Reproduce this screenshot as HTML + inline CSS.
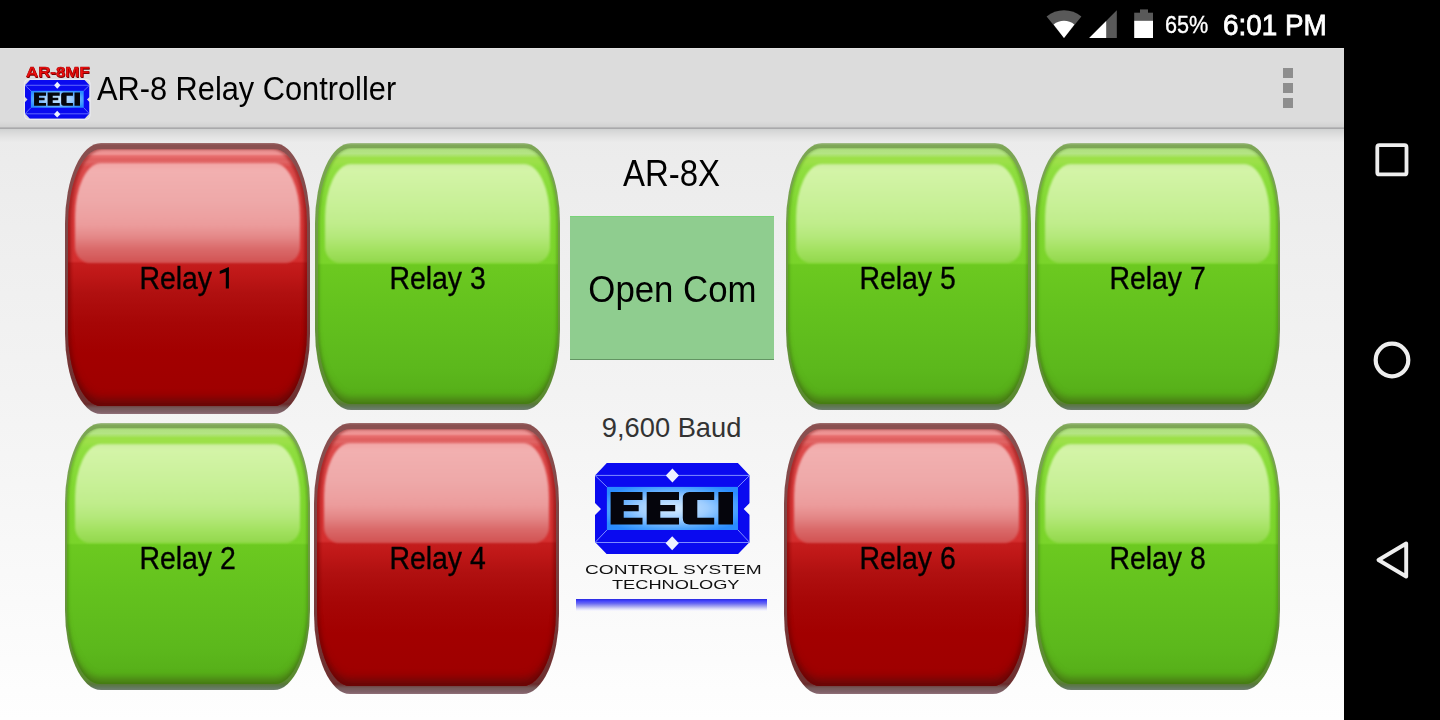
<!DOCTYPE html>
<html><head><meta charset="utf-8">
<style>
*{margin:0;padding:0;box-sizing:border-box}
html,body{width:1440px;height:720px;overflow:hidden;background:#000;font-family:"Liberation Sans",sans-serif}
.t{position:absolute;white-space:nowrap;line-height:1;transform-origin:0 0}
#status{position:absolute;left:0;top:0;width:1440px;height:48px;background:#000}
#nav{position:absolute;left:1344px;top:48px;width:96px;height:672px;background:#000}
#appbar{position:absolute;left:0;top:48px;width:1344px;height:81px;background:linear-gradient(to bottom,#e6e6e6 0,#dcdcdc 1.5px,#dcdcdc 73px,#d8d8d8 75.5px,#d1d1d1 79px,#a9a9ab 79.8px,#a9a9ab 81px)}
#shadow{position:absolute;left:0;top:129px;width:1344px;height:13px;background:linear-gradient(to bottom,#d0d2d2 0,#d6d7d7 2px,#dddddd 5px,#e5e5e5 9px,#ebebeb 13px)}
#content{position:absolute;left:0;top:129px;width:1344px;height:591px;background:linear-gradient(to bottom,#ebebeb 0%,#f4f4f4 50%,#fefefe 100%)}
.btn{position:absolute;width:245px;border-radius:36px/80px;filter:blur(.45px)}
.btn .body,.btn .hl{position:absolute}
.btn .hl{filter:blur(.9px)}
.red{height:271px;background:linear-gradient(to bottom,#a07070 0,#8a5050 2px,#8a5050 5px,#7c4444 40%,#763636 75%,#6e3030 calc(100% - 12px),#6a2a2a calc(100% - 10px),#765a5a calc(100% - 6px),#806068 calc(100% - 2px),#907078 100%)}
.red .body{left:3px;right:3px;top:6.5px;bottom:8px;border-radius:33px/76px;
 background:linear-gradient(to bottom,#d89090 0,#e89090 1px,#f09494 5px,#e87070 7px,#e06060 10px,#e06464 13px,#dc4c4c 18px,#d83a3a 60px,#d42e2e 112px,#c41c1c 114.5px,#c01818 124px,#b01010 144px,#a60606 174px,#a20000 204px,#9e0000 100%);
 box-shadow:inset 3px 0 3px rgba(110,0,0,.4),inset -3px 0 3px rgba(110,0,0,.4),inset 0 -12px 8px -5px rgba(90,10,10,.8)}
.red .hl{left:10px;right:10px;top:20.3px;height:100.2px;border-radius:26px 26px 15px 15px/54px 54px 16px 16px;
 background:linear-gradient(to bottom,#f2a6a6 0,#f2b0b0 8%,#eea8a8 40%,#ec9c9c 62%,#e48888 74%,#da6a6a 86%,#d25252 100%)}
.green{height:266.5px;background:linear-gradient(to bottom,#a8c090 0,#80a858 2px,#7ca654 5px,#6c9a40 50%,#5a8a30 calc(100% - 10px),#587838 calc(100% - 6px),#607858 calc(100% - 3px),#708070 100%)}
.green .body{left:2.3px;right:2.3px;top:5px;bottom:6px;border-radius:33px/76px;
 background:linear-gradient(to bottom,#a8d478 0,#b0e080 1px,#b4e484 5.5px,#a8e266 8px,#9ce048 10px,#9ce048 14px,#90de40 20px,#80d830 60px,#7ad42a 115px,#6cc920 117px,#64c21e 160px,#5cb81c 220px,#54ac18 100%);
 box-shadow:inset 2px 0 2px rgba(60,110,20,.25),inset -2px 0 2px rgba(60,110,20,.25),inset 0 -10px 7px -4px rgba(70,110,20,.75)}
.green .hl{left:10px;right:10px;top:20.5px;height:99.5px;border-radius:26px 26px 15px 15px/54px 54px 16px 16px;
 background:linear-gradient(to bottom,#cceea0 0,#d4f4a8 6%,#caf19a 35%,#c0ed8c 60%,#b4e87a 74%,#a4e262 86%,#92d84c 100%)}
.lbl{position:absolute;width:245px;text-align:center;font-size:31px;line-height:31px;color:#000;white-space:nowrap}
.lbl span{display:inline-block;transform:scaleX(.916);-webkit-text-stroke:.35px #000}
</style></head><body>
<div id="status"></div>
<div id="appbar"></div>
<div id="content"></div>
<div id="shadow"></div>
<div id="nav"></div>

<!-- status bar icons -->
<svg style="position:absolute;left:1040px;top:4px" width="120" height="40" viewBox="1040 4 120 40">
 <path d="M1064 38 L1046.6 16.4 A28 28 0 0 1 1081.4 16.4 Z" fill="#595959"/>
 <path d="M1064 38 L1053.6 24.4 A17 17 0 0 1 1074.4 24.4 Z" fill="#fff"/>
 <path d="M1089.2 38 L1116.8 38 L1116.8 10.2 Z" fill="#595959"/>
 <path d="M1089.2 38 L1106.2 38 L1106.2 21 Z" fill="#fff"/>
 <rect x="1140" y="9.4" width="8" height="4" fill="#595959"/>
 <rect x="1134.2" y="12.7" width="18.8" height="8" fill="#595959"/>
 <rect x="1134.2" y="20.7" width="18.8" height="17.3" fill="#fff"/>
</svg>
<div class="t" style="left:1165.2px;top:12.7px;font-size:24.6px;color:#fff;transform:scaleX(.88);-webkit-text-stroke:.35px #fff">65%</div>
<div class="t" style="left:1223.2px;top:11.1px;font-size:29px;color:#fff;transform:scaleX(.96);-webkit-text-stroke:.8px #fff">6:01 PM</div>

<!-- app bar -->
<div class="t" style="left:97.3px;top:71.8px;font-size:33px;color:#000;transform:scaleX(.932)">AR-8 Relay Controller</div>
<div style="position:absolute;left:1283px;top:68px;width:10px;height:10px;background:#8e8e8e"></div>
<div style="position:absolute;left:1283px;top:83px;width:10px;height:10px;background:#8e8e8e"></div>
<div style="position:absolute;left:1283px;top:98px;width:10px;height:10px;background:#8e8e8e"></div>

<!-- nav icons -->
<svg style="position:absolute;left:1360px;top:130px" width="64" height="460" viewBox="1360 130 64 460">
 <rect x="1377.3" y="145.2" width="29.2" height="29.2" rx="2" fill="none" stroke="#eee" stroke-width="3.8"/>
 <circle cx="1392" cy="360" r="16.3" fill="none" stroke="#eee" stroke-width="4.2"/>
 <path d="M1406.2 543.5 L1378.5 560 L1406.2 576.5 Z" fill="none" stroke="#eee" stroke-width="3.9" stroke-linejoin="round"/>
</svg>

<!-- relay buttons -->
<div class="btn red" style="left:64.5px;top:142.5px"><div class="body"></div><div class="hl"></div></div>
<div class="btn green" style="left:315.4px;top:143px"><div class="body"></div><div class="hl"></div></div>
<div class="btn green" style="left:785.5px;top:143px"><div class="body"></div><div class="hl"></div></div>
<div class="btn green" style="left:1035.2px;top:143px"><div class="body"></div><div class="hl"></div></div>
<div class="btn green" style="left:65px;top:423px"><div class="body"></div><div class="hl"></div></div>
<div class="btn red" style="left:314.4px;top:422.5px"><div class="body"></div><div class="hl"></div></div>
<div class="btn red" style="left:784px;top:422.5px"><div class="body"></div><div class="hl"></div></div>
<div class="btn green" style="left:1035.4px;top:423px"><div class="body"></div><div class="hl"></div></div>

<div class="lbl" style="left:65.5px;top:262.5px"><span>Relay <svg width="17.24" height="21.4" viewBox="0 0 17.24 21.4" style="vertical-align:baseline;overflow:visible"><path d="M9.7 .3 V21.6 H6.3 V4.9 L-.3 7.1 V4 L8.9 .3 Z" fill="#000"/></svg></span></div>
<div class="lbl" style="left:315px;top:262.5px"><span>Relay 3</span></div>
<div class="lbl" style="left:785.5px;top:262.5px"><span>Relay 5</span></div>
<div class="lbl" style="left:1035.5px;top:262.5px"><span>Relay 7</span></div>
<div class="lbl" style="left:65.5px;top:542.5px"><span>Relay 2</span></div>
<div class="lbl" style="left:315px;top:542.5px"><span>Relay 4</span></div>
<div class="lbl" style="left:785.5px;top:542.5px"><span>Relay 6</span></div>
<div class="lbl" style="left:1035.5px;top:542.5px"><span>Relay 8</span></div>

<!-- center column -->
<div style="position:absolute;left:571.5px;width:200px;top:155.4px;text-align:center;font-size:37px;line-height:1;white-space:nowrap"><span style="display:inline-block;transform:scaleX(.891)">AR-8X</span></div>
<div style="position:absolute;left:570px;top:216px;width:204px;height:143.5px;background:#8fcd8f;border-top:1px solid #78d478;border-bottom:1.5px solid #639563"></div>
<div style="position:absolute;left:572px;width:200px;top:270.6px;text-align:center;font-size:37px;line-height:1;white-space:nowrap"><span style="display:inline-block;transform:scaleX(.94)">Open Com</span></div>
<div style="position:absolute;left:571.6px;width:200px;top:414px;text-align:center;font-size:27.3px;line-height:1;white-space:nowrap;color:#333"><span style="display:inline-block">9,600 Baud</span></div>


<svg width="0" height="0" style="position:absolute">
 <defs>
  <radialGradient id="ig" cx="0.5" cy="0.5" r="0.6" gradientTransform="translate(0 0) scale(1 1)">
   <stop offset="0" stop-color="#d6ecff"/>
   <stop offset="0.45" stop-color="#9cccff"/>
   <stop offset="0.8" stop-color="#4aa2ff"/>
   <stop offset="1" stop-color="#2a8cff"/>
  </radialGradient>
  <symbol id="badge" viewBox="0 0 154.7 91.2" preserveAspectRatio="none">
   <path d="M11.8 0 H142.9 L154.7 12.4 V40 L148.7 46 L154.7 52 V79 L142.9 91.2 H11.8 L0 79 V52 L6 46 L0 40 V12.4 Z" fill="#0a0af0"/>
   <rect x="11.9" y="23.9" width="131.1" height="43.1" fill="url(#ig)"/>
   <g stroke="#7f8cff" stroke-width="1" fill="none">
    <path d="M0 12.4 H154.7 M0 79.5 H154.7 M0 12.4 L11.9 23.9 M154.7 12.4 L143 23.9 M0 79.5 L11.9 67 M154.7 79.5 L143 67"/>
   </g>
   <path d="M77.4 5.4 L84 12.4 L77.4 19.4 L70.8 12.4 Z" fill="#eef2ff"/>
   <path d="M77.2 73.3 L83.8 80.3 L77.2 87.3 L70.6 80.3 Z" fill="#eef2ff"/>
   <g fill="#05050c">
    <path d="M15.6 29 H47.5 V37 H28.7 V42 H43.7 V48.2 H28.7 V54.8 H47.5 V61.4 H15.6 Z"/>
    <path d="M51.7 29 H84 V37 H65.3 V42 H80.2 V48.2 H65.3 V54.8 H84 V61.4 H51.7 Z"/>
    <path d="M94.3 29 H119.2 V37 H102.3 V54.8 H119.2 V61.4 H94.3 Q87.8 61.4 87.8 54.9 V35.5 Q87.8 29 94.3 29 Z"/>
    <path d="M123.4 29 H138 V61.4 H123.4 Z"/>
   </g>
  </symbol>
  <symbol id="badge2" viewBox="0 0 154.7 91.2" preserveAspectRatio="none">
   <path d="M11.8 0 H142.9 L154.7 12.4 V40 L148.7 46 L154.7 52 V79 L142.9 91.2 H11.8 L0 79 V52 L6 46 L0 40 V12.4 Z" fill="#0a0af0"/>
   <rect x="14.1" y="25.4" width="126.7" height="39.7" fill="url(#ig)"/>
   <g stroke="#8a96ff" stroke-width="1.6" fill="none">
    <path d="M0 12.4 H154.7 M0 79.5 H154.7 M0 12.4 L14.1 25.4 M154.7 12.4 L140.8 25.4 M0 79.5 L14.1 65.1 M154.7 79.5 L140.8 65.1"/>
   </g>
   <path d="M77.4 4.4 L85 12.4 L77.4 20.4 L69.8 12.4 Z" fill="#eef2ff"/>
   <path d="M77.2 72.3 L84.8 80.3 L77.2 88.3 L69.6 80.3 Z" fill="#eef2ff"/>
   <g fill="#05050c" transform="translate(76.8 0) scale(.9 .96) translate(-76.8 1.5)">
    <path d="M15.6 29 H47.5 V37 H28.7 V42 H43.7 V48.2 H28.7 V54.8 H47.5 V61.4 H15.6 Z"/>
    <path d="M51.7 29 H84 V37 H65.3 V42 H80.2 V48.2 H65.3 V54.8 H84 V61.4 H51.7 Z"/>
    <path d="M94.3 29 H119.2 V37 H102.3 V54.8 H119.2 V61.4 H94.3 Q87.8 61.4 87.8 54.9 V35.5 Q87.8 29 94.3 29 Z"/>
    <path d="M123.4 29 H138 V61.4 H123.4 Z"/>
   </g>
  </symbol>
 </defs>
</svg>
<svg style="position:absolute;left:595px;top:463px" width="154.7" height="91.2"><use href="#badge" width="154.7" height="91.2"/></svg>
<div class="t" style="left:585px;top:563.7px;font-size:12.5px;color:#111;transform:scaleX(1.53)">CONTROL SYSTEM</div>
<div class="t" style="left:611.9px;top:578.6px;font-size:12.5px;color:#111;transform:scaleX(1.457)">TECHNOLOGY</div>
<div style="position:absolute;left:576px;top:599px;width:191px;height:12px;background:linear-gradient(to bottom,#2828e0 0,#4444fc 2px,#6a6af2 4.5px,#a0a0f0 7px,#e0e0f8 10px,#fafaff 12px)"></div>

<svg style="position:absolute;left:25px;top:80.3px;overflow:visible" width="64.5" height="38.8"><rect x="-.6" y="-.6" width="65.7" height="40" rx="4" fill="none" stroke="#f4f4ff" stroke-width="1" opacity=".7"/><use href="#badge2" width="64.5" height="38.8"/></svg>
<div class="t" style="left:25.9px;top:64.9px;font-size:14.3px;font-weight:bold;color:#f01010;transform:scaleX(1.18);-webkit-text-stroke:.6px #b00000;text-shadow:.5px .7px 0 #600">AR-8MF</div>

</body></html>
